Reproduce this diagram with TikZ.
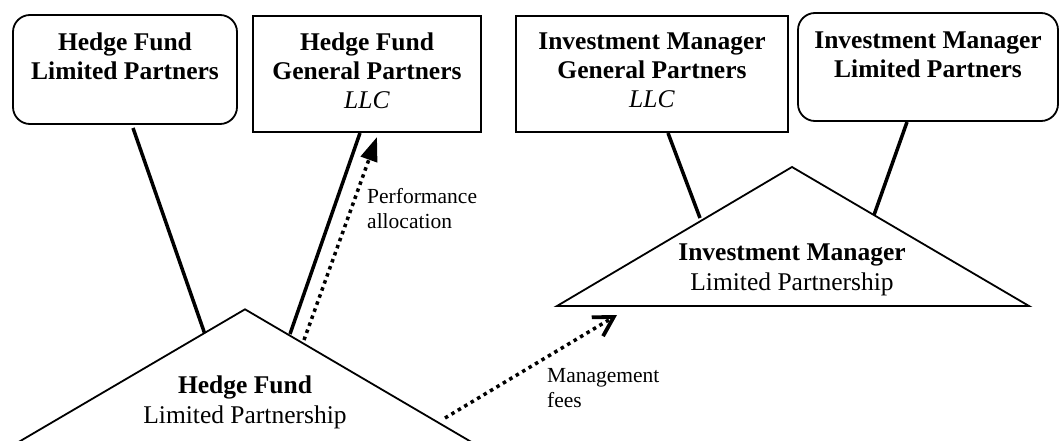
\documentclass[tikz,border=0pt]{standalone}
\usepackage{fontspec}
\setmainfont{Liberation Serif}
\usetikzlibrary{arrows.meta}
\begin{document}
\begin{tikzpicture}[x=1pt,y=-1pt,
  boxline/.style={draw=black, line width=1.8pt, inner sep=0pt},
  rbox/.style={boxline, rounded corners=17pt},
  sbox/.style={boxline},
  boxtext/.style={align=center, inner sep=0pt, anchor=north, font=\fontsize{25.5}{29}\selectfont},
  tritext/.style={align=center, inner sep=0pt, anchor=north, font=\fontsize{25.5}{30}\selectfont},
  flowtext/.style={align=left, inner sep=0pt, anchor=north west, font=\fontsize{21.5}{25}\selectfont},
  tri/.style={line width=1.8pt, line join=miter},
  link/.style={line width=3.5pt},
  flow/.style={line width=3.5pt, dash pattern=on 3.5pt off 4pt},
]
\useasboundingbox (0,0) rectangle (1059,441);
\clip (0,0) rectangle (1059,441);

% boxes
\node[rbox, minimum width=224pt, minimum height=109pt] (hflp) at (125,69.5) {};
\node[sbox, minimum width=228pt, minimum height=116pt] (hfgp) at (367,74) {};
\node[sbox, minimum width=272pt, minimum height=116pt] (imgp) at (652,74) {};
\node[rbox, minimum width=260pt, minimum height=108pt] (imlp) at (928,67) {};

\node[boxtext] (hflpt) at (125,33) {\textbf{Hedge Fund}\\\textbf{Limited Partners}};
\node[boxtext] (hfgpt) at (367,33) {\textbf{Hedge Fund}\\\textbf{General Partners}\\\textit{LLC}};
\node[boxtext] (imgpt) at (652,33) {\textbf{Investment Manager}\\\textbf{General Partners}\\\textit{LLC}};
\node[boxtext] (imlpt) at (928,32) {\textbf{Investment Manager}\\\textbf{Limited Partners}};

% triangles
\draw[tri] (13.5,445) -- (245,309.3) -- (476.5,445);
\draw[tri] (557,306) -- (792,167) -- (1029,306) -- cycle;

\node[tritext] (hf) at (245,376) {\textbf{Hedge Fund}\\Limited Partnership};
\node[tritext] (im) at (792,244) {\textbf{Investment Manager}\\Limited Partnership};

% connector end points
\coordinate (hflpb) at (133,128);
\coordinate (hfa) at (204.5,333);
\coordinate (hfgpb) at (360,133);
\coordinate (hfb) at (290,334);
\coordinate (imgpb) at (668,133);
\coordinate (ima) at (700,218);
\coordinate (imlpb) at (907,122);
\coordinate (imb) at (874,215);

\draw[link] (hflpb) -- (hfa);
\draw[link] (hfgpb) -- (hfb);
\draw[link] (imgpb) -- (ima);
\draw[link] (imlpb) -- (imb);

% flows
\coordinate (pas) at (304,340);
\coordinate (pat) at (377,137);
\coordinate (mfs) at (445,418);
\coordinate (mft) at (617,315);

\draw[flow, -{Triangle[length=24pt,width=17pt]}] (pas) -- (pat);
\draw[flow, -{Straight Barb[angle=60:22pt, line width=3.8pt]}] (mfs) -- (mft);

\node[flowtext] (pa) at (367,188) {Performance\\allocation};
\node[flowtext] (mf) at (547,368.5) {Management\\fees};
\end{tikzpicture}
\end{document}
